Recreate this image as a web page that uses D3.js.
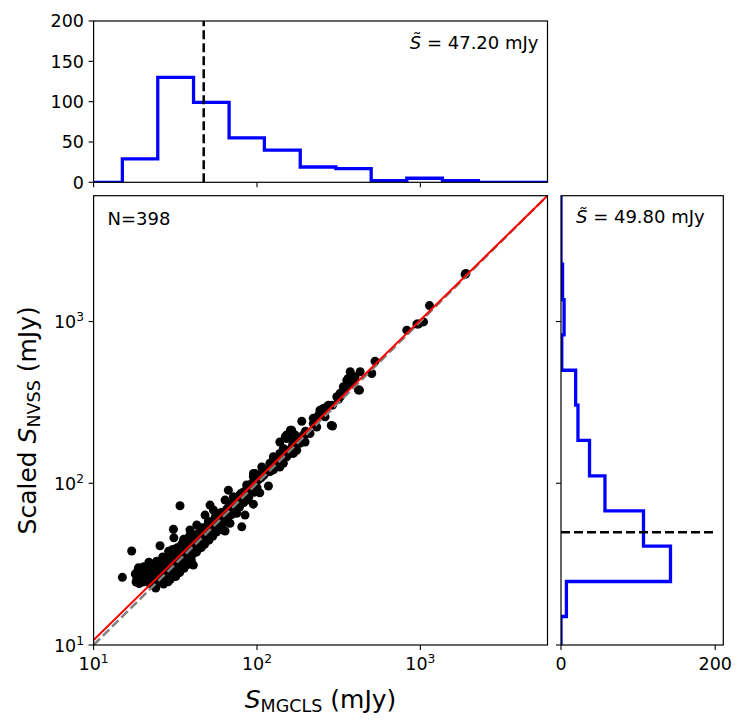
<!DOCTYPE html>
<html>
<head>
<meta charset="utf-8">
<script src="https://cdn.jsdelivr.net/npm/d3@7"></script>
<style>
  body { margin: 0; background: #fff; }
  text { font-family: "DejaVu Sans", sans-serif; fill: #000; }
</style>
</head>
<body>
<script>
// values
const nSources = 398;
const medianX = 47.20;
const medianY = 49.80;
const binEdges = [15.0, 24.7, 40.9, 67.5, 111, 184, 304, 500, 826, 1365, 2265, 3740];
const countsX = [29, 130, 99, 55, 40, 19, 17, 2, 5, 2, 0];
const countsY = [7, 142, 107, 57, 37, 22, 19, 1, 4, 2, 0];
const fitSlope = 0.989;
const fitIntercept = 0.042;   // log10 space
const decadeTicks = [10, 100, 1000];
const topCountTicks = [0, 50, 100, 150, 200];
const rightCountTicks = [0, 200];

// [S_MGCLS, scaled S_NVSS] in mJy
const points = [
  [15.0,26.2],[17.1,38.1],[18.2,24.5],[18.4,25.5],[18.6,28.5],[18.8,30.0],[19.0,24.0],[19.2,29.8],[19.5,27.0],[19.8,26.0],
  [20.0,24.5],[20.3,30.5],[20.6,25.2],[21.0,28.0],[21.5,26.0],[21.8,32.5],[22.1,29.8],[22.1,24.0],[22.5,31.0],[23.0,27.5],
  [23.2,30.0],[23.5,25.5],[23.8,23.5],[24.0,29.0],[24.0,22.5],[24.3,33.0],[24.5,26.5],[24.6,24.2],[18.0,27.5],
  [25.0,24.2],[25.0,27.0],[25.2,29.0],[25.3,32.0],[25.5,41.1],[26.0,25.0],[26.0,26.5],[26.2,28.5],[26.3,31.0],[26.5,35.0],
  [27.0,24.8],[27.0,27.0],[27.2,29.5],[27.4,33.0],[28.0,26.5],[28.2,28.0],[28.3,30.0],[28.5,34.0],[28.6,24.6],[28.8,38.0],
  [29.0,27.0],[29.2,29.0],[29.4,31.0],[29.6,36.0],[30.0,28.0],[30.0,30.0],[30.2,32.0],[30.4,33.5],[30.5,39.0],
  [30.8,52.0],[31.0,46.0],[31.2,29.0],[31.3,31.0],[31.5,34.0],[31.6,37.0],[32.0,30.0],[32.2,33.5],[32.3,35.0],[32.5,40.0],
  [33.0,31.0],[33.2,32.5],[33.3,35.5],[33.5,38.0],[33.8,72.6],[34.0,32.0],[34.2,34.0],[34.4,36.5],[34.6,42.0],
  [35.0,33.0],[35.2,35.5],[35.3,37.0],[35.5,39.0],[35.6,45.0],[36.0,34.0],[36.2,36.0],[36.4,38.0],[36.6,41.0],
  [37.0,35.0],[37.2,37.5],[37.4,40.0],[37.6,44.0],[38.0,35.0],[38.2,38.0],[38.4,40.5],[38.6,47.0],
  [39.0,37.0],[39.2,39.5],[39.4,42.0],[38.9,51.4],[40.0,36.0],[40.2,40.0],[40.4,43.0],[40.8,46.7],[40.8,31.2],
  [40.6,38.5],[41.0,42.0],[41.2,41.0],[41.3,44.0],
  [29.5,25.5],[31.8,26.5],[33.6,28.0],[35.8,29.8],[37.8,31.5],[39.6,33.5],[26.8,23.8],[30.6,27.0],[34.8,30.5],[36.8,32.5],
  [42.0,40.0],[42.0,43.0],[42.2,45.0],[42.4,48.0],[43.0,42.0],[43.2,44.5],[42.8,55.2],[44.0,41.0],[44.0,45.0],[44.2,47.0],
  [44.4,50.0],[45.0,43.0],[45.2,46.0],[45.4,48.5],[46.0,44.0],[46.0,47.5],[46.2,50.0],[46.4,53.0],[47.0,45.0],[47.2,48.0],
  [47.4,51.0],[48.0,46.0],[48.0,49.5],[48.2,52.0],[48.1,63.6],[49.0,47.0],[49.2,51.0],[49.4,54.0],[50.0,48.0],[50.0,52.0],
  [50.2,55.0],[50.4,58.0],[51.6,73.3],[51.0,50.0],[51.2,54.0],[52.0,52.0],[52.2,56.0],[53.0,51.0],[53.2,55.0],[53.4,58.0],
  [54.0,53.0],[54.2,57.0],[54.1,68.3],[55.3,59.3],[55.0,55.0],[55.5,62.0],[57.0,55.0],[57.2,58.5],[57.4,62.0],[58.0,57.0],
  [58.2,60.0],[58.4,64.0],[59.0,56.0],[59.2,61.0],[60.0,58.0],[60.2,62.0],[60.4,66.0],[62.2,51.4],[62.0,61.0],[62.4,65.0],
  [63.8,50.7],[63.8,78.7],[63.5,63.0],[64.0,67.0],[65.0,64.0],[65.2,69.0],[66.8,90.7],[66.5,67.0],[67.0,71.0],
  [42.6,37.5],[45.6,40.0],[47.8,42.0],[50.8,44.5],[53.6,47.0],[56.5,50.0],[59.6,52.5],[61.0,55.0],[64.5,58.0],[66.0,60.5],
  [68.4,56.5],[69.0,70.0],[69.2,74.0],[71.0,72.0],[71.2,76.0],[71.6,82.6],[73.0,74.0],[73.2,78.0],[75.0,76.0],[75.2,80.0],
  [75.2,65.2],[77.0,78.0],[77.2,83.0],[79.0,80.0],[79.2,86.0],[80.7,53.8],[82.0,83.0],[82.2,88.0],[84.5,63.6],[85.0,86.0],
  [85.2,90.0],[86.5,78.7],[86.5,97.5],[88.0,89.0],[88.2,94.0],[90.0,92.0],[90.2,97.0],[93.0,95.0],[93.2,100.0],[95.0,74.3],
  [95.0,110.0],[95.2,115.0],[97.3,115.0],[98.0,100.0],[98.2,104.0],[102.0,105.0],[102.2,108.0],[104.0,87.3],[104.0,110.0],
  [106.0,108.0],[106.2,113.0],[107.0,126.0],[109.0,121.0],[110.0,112.0],[110.2,117.0],
  [70.0,64.0],[74.0,68.0],[78.0,71.0],[83.0,76.0],[89.0,82.0],[96.0,88.0],[100.0,94.0],
  [113,116],[116,120],[117.5,96.2],[120,118],[120,133],[123,128],[126,121],[126,139],[126,146],[129,139],[131,135],
  [135,140],[138,126],[138,153],[138,180],[142,148],[145,133],[145,164],[148,152],[149,194],[152,146],[152,189],[152,199],
  [155,160],[160,153],[160,190],[160,213],[163,213],[165,172],[167,153],[167,168],[171,199],[172,178],[175,160],[178,185],
  [182,190],[184,177],
  [188,242],[192,199],[197,180],[202,203],[211,203],[221,234],[221,252],[232,223],[238,264],[243,271],[243,283],[255,290],
  [261,258],[267,297],[274,304],[285,228],[290,226],[290,304],[198,210],
  [308,343],[323,343],[323,360],[338,367],[338,395],[355,404],[355,434],[372,416],[372,489],[389,424],[418,377],[424,377],
  [428,489],[345,380],[362,445],[398,455],[315,330],
  [504,477],[528,569],
  [826,885],[952,964],[973,965],[1045,995],[1137,1255],
  [1880,1960],[1900,1983]
];

const W = 747, H = 726;
const mainBox = { left: 93.6, right: 547.5, top: 195.7, bottom: 645 };
const topBox = { top: 21, bottom: 182.3 };
const sideBox = { left: 561, right: 723.3 };
const fsTick = 17.5, fsText = 18, fsLabel = 25;

const svg = d3.select('body').append('svg')
  .attr('width', W)
  .attr('height', H);

const x = d3.scaleLog().domain([10, 6000]).range([mainBox.left, mainBox.right]);
const y = d3.scaleLog().domain([10, 6000]).range([mainBox.bottom, mainBox.top]);
const cTop = d3.scaleLinear().domain([0, 200]).range([topBox.bottom, topBox.top]);
const cSide = d3.scaleLinear().domain([0, 210.5]).range([sideBox.left, sideBox.right]);

const defs = svg.append('defs');
function clip(id, x0, y0, x1, y1) {
  defs.append('clipPath').attr('id', id)
    .append('rect').attr('x', x0).attr('y', y0).attr('width', x1 - x0).attr('height', y1 - y0);
}
clip('c-main', mainBox.left, mainBox.top, mainBox.right, mainBox.bottom);
clip('c-top', mainBox.left, topBox.top, mainBox.right, topBox.bottom);
clip('c-side', sideBox.left, mainBox.top, sideBox.right, mainBox.bottom);

// superscript power-of-ten label
function powLabel(sel, v) {
  const e = Math.round(Math.log10(v));
  sel.append('tspan').text('10');
  sel.append('tspan').attr('font-size', fsTick * 0.7).attr('dy', -7).text(e);
}

// ---------- main scatter ----------
const gMain = svg.append('g').attr('clip-path', 'url(#c-main)');

gMain.selectAll('circle')
  .data(points)
  .enter().append('circle')
  .attr('cx', d => x(d[0]))
  .attr('cy', d => y(d[1]))
  .attr('r', 4.5)
  .attr('fill', '#000');

// one-to-one line
gMain.append('line')
  .attr('x1', x(10)).attr('y1', y(10))
  .attr('x2', x(6000)).attr('y2', y(6000))
  .attr('stroke', 'gray').attr('stroke-width', 2.5)
  .attr('stroke-dasharray', '9,4');

// fitted relation
const fitX = [10, 6000];
const fitLine = d3.line()
  .x(d => x(d))
  .y(d => y(Math.pow(10, fitIntercept + fitSlope * Math.log10(d))));
gMain.append('path')
  .attr('d', fitLine(fitX))
  .attr('fill', 'none')
  .attr('stroke', 'red')
  .attr('stroke-width', 2);

svg.append('text')
  .attr('x', 107.5).attr('y', 224.5)
  .attr('font-size', fsText)
  .text('N=' + nSources);

// ---------- top histogram ----------
function stepPoints(edges, counts, lo, hi) {
  const pts = [[lo, 0], [edges[0], 0]];
  counts.forEach((c, i) => {
    pts.push([edges[i], c]);
    pts.push([edges[i + 1], c]);
  });
  pts.push([edges[edges.length - 1], 0]);
  pts.push([hi, 0]);
  return pts;
}

const gTop = svg.append('g').attr('clip-path', 'url(#c-top)');
gTop.append('path')
  .attr('d', d3.line().x(d => x(d[0])).y(d => cTop(d[1]))(stepPoints(binEdges, countsX, 10, 6000)))
  .attr('fill', 'none')
  .attr('stroke', '#0000ff')
  .attr('stroke-width', 3.3);

gTop.append('line')
  .attr('x1', x(medianX)).attr('x2', x(medianX))
  .attr('y1', cTop(0)).attr('y2', cTop(200))
  .attr('stroke', '#000').attr('stroke-width', 2.5)
  .attr('stroke-dasharray', '9,4');

const tTop = svg.append('text')
  .attr('x', 538.5).attr('y', 48.5)
  .attr('text-anchor', 'end')
  .attr('font-size', fsText);
tTop.append('tspan').attr('font-style', 'italic').text('S\u0303');
tTop.append('tspan').text(' = ' + medianX.toFixed(2) + ' mJy');

// ---------- side histogram ----------
const gSide = svg.append('g').attr('clip-path', 'url(#c-side)');
gSide.append('path')
  .attr('d', d3.line().x(d => cSide(d[1])).y(d => y(d[0]))(stepPoints(binEdges, countsY, 10, 6000)))
  .attr('fill', 'none')
  .attr('stroke', '#0000ff')
  .attr('stroke-width', 3.3);

gSide.append('line')
  .attr('x1', cSide(0)).attr('x2', cSide(200))
  .attr('y1', y(medianY)).attr('y2', y(medianY))
  .attr('stroke', '#000').attr('stroke-width', 2.5)
  .attr('stroke-dasharray', '9,4');

const tSide = svg.append('text')
  .attr('x', 576).attr('y', 223.3)
  .attr('font-size', fsText);
tSide.append('tspan').attr('font-style', 'italic').text('S\u0303');
tSide.append('tspan').text(' = ' + medianY.toFixed(2) + ' mJy');

// ---------- frames and ticks ----------
function frame(x0, y0, x1, y1) {
  svg.append('rect')
    .attr('x', x0).attr('y', y0).attr('width', x1 - x0).attr('height', y1 - y0)
    .attr('fill', 'none').attr('stroke', '#000').attr('stroke-width', 1.2);
}
frame(mainBox.left, mainBox.top, mainBox.right, mainBox.bottom);
frame(mainBox.left, topBox.top, mainBox.right, topBox.bottom);
frame(sideBox.left, mainBox.top, sideBox.right, mainBox.bottom);

const tickLen = 5;
function tick(x1, y1, x2, y2) {
  svg.append('line').attr('x1', x1).attr('y1', y1).attr('x2', x2).attr('y2', y2)
    .attr('stroke', '#000').attr('stroke-width', 1.1);
}

decadeTicks.forEach(v => {
  // main x
  tick(x(v), mainBox.bottom, x(v), mainBox.bottom + tickLen);
  svg.append('text').attr('x', x(v)).attr('y', 670).attr('text-anchor', 'middle')
    .attr('font-size', fsTick).call(powLabel, v);
  // main y
  tick(mainBox.left - tickLen, y(v), mainBox.left, y(v));
  svg.append('text').attr('x', 84).attr('y', y(v) + 6.5).attr('text-anchor', 'end')
    .attr('font-size', fsTick).call(powLabel, v);
  // top hist x (no labels)
  tick(x(v), topBox.bottom, x(v), topBox.bottom + tickLen);
  // side hist y (no labels)
  tick(sideBox.left - tickLen, y(v), sideBox.left, y(v));
});

topCountTicks.forEach(v => {
  tick(mainBox.left - tickLen, cTop(v), mainBox.left, cTop(v));
  svg.append('text').attr('x', 84).attr('y', cTop(v) + 6.3).attr('text-anchor', 'end')
    .attr('font-size', fsTick).text(v);
});

rightCountTicks.forEach(v => {
  tick(cSide(v), mainBox.bottom, cSide(v), mainBox.bottom + tickLen);
  svg.append('text').attr('x', cSide(v)).attr('y', 670).attr('text-anchor', 'middle')
    .attr('font-size', fsTick).text(v);
});

// ---------- axis labels ----------
const xl = svg.append('text')
  .attr('x', (mainBox.left + mainBox.right) / 2).attr('y', 708)
  .attr('text-anchor', 'middle')
  .attr('font-size', fsLabel);
xl.append('tspan').attr('font-style', 'italic').text('S');
xl.append('tspan').attr('font-size', fsLabel * 0.7).attr('dy', 4).text('MGCLS');
xl.append('tspan').attr('dy', -4).text(' (mJy)');

const yl = svg.append('text')
  .attr('transform', `translate(36, ${(mainBox.top + mainBox.bottom) / 2}) rotate(-90)`)
  .attr('text-anchor', 'middle')
  .attr('font-size', fsLabel);
yl.append('tspan').text('Scaled ');
yl.append('tspan').attr('font-style', 'italic').text('S');
yl.append('tspan').attr('font-size', fsLabel * 0.7).attr('dy', 4).text('NVSS');
yl.append('tspan').attr('dy', -4).text(' (mJy)');
</script>
</body>
</html>
